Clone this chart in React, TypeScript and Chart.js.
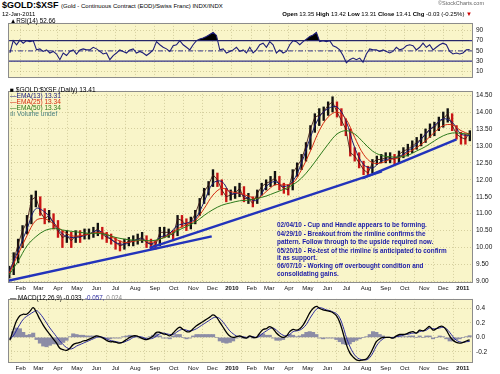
import React, { useEffect, useRef } from 'react';
import { Chart, registerables } from 'chart.js';
Chart.register(...registerables);

const FONT = "'Liberation Sans', Arial, sans-serif";
const PANEL_BG = '#f9f5c9';
const GRID = 'rgba(130,120,60,0.30)';

// ---------- axis labels ----------
const monthTickLabels = ['Feb', 'Mar', 'Apr', 'May', 'Jun', 'Jul', 'Aug', 'Sep', 'Oct', 'Nov', 'Dec', '2010',
  'Feb', 'Mar', 'Apr', 'May', 'Jun', 'Jul', 'Aug', 'Sep', 'Oct', 'Nov', 'Dec', '2011'];
const priceTicks = [9.0, 9.25, 9.5, 9.75, 10.0, 10.25, 10.5, 10.75, 11.0, 11.25, 11.5, 11.75, 12.0,
  12.25, 12.5, 12.75, 13.0, 13.25, 13.5, 13.75, 14.0, 14.25, 14.5];
const rsiTicks = [10, 30, 50, 70, 90];
const macdTicks = [-0.2, 0.0, 0.2, 0.4];

// ---------- weekly price (CHF) ----------
const weeklyClose = [9.2, 9.6, 10.1, 10.5, 10.75, 11.4, 11.5, 11.05, 10.85, 10.95,
  10.7, 10.5, 10.3, 10.35, 10.2, 10.35, 10.3, 10.4, 10.4, 10.45,
  10.55, 10.4, 10.3, 10.25, 10.15, 10.05, 10.1, 10.2, 10.2, 10.25,
  10.3, 10.15, 10.1, 10.05, 10.45, 10.45, 10.45, 10.35, 10.85, 10.8,
  10.65, 10.75, 11.0, 11.35, 11.65, 11.85, 12.15, 12.0, 11.7, 11.5,
  11.55, 11.6, 11.75, 11.45, 11.45, 11.3, 11.6, 11.8, 11.9, 11.95,
  12.05, 11.85, 11.75, 11.7, 12.2, 12.4, 12.6, 13.0, 13.5, 13.85,
  13.9, 14.0, 14.2, 14.3, 14.0, 13.75, 13.5, 12.8, 12.7, 12.5,
  12.3, 12.2, 12.5, 12.6, 12.6, 12.65, 12.65, 12.6, 12.75, 12.85,
  12.9, 13.0, 13.1, 13.2, 13.35, 13.5, 13.55, 13.7, 13.8, 13.95,
  13.6, 13.35, 13.25, 13.2, 13.41];
const weeklyHigh = [9.45, 9.85, 10.25, 10.65, 10.95, 11.55, 11.67, 11.5, 11.15, 11.1,
  11.0, 10.8, 10.5, 10.5, 10.45, 10.5, 10.5, 10.55, 10.55, 10.6,
  10.72, 10.6, 10.45, 10.4, 10.3, 10.2, 10.25, 10.3, 10.35, 10.4,
  10.45, 10.35, 10.25, 10.2, 10.6, 10.6, 10.55, 10.5, 10.95, 10.95,
  10.85, 10.9, 11.1, 11.45, 11.75, 11.95, 12.3, 12.2, 12.0, 11.75,
  11.7, 11.8, 11.9, 11.8, 11.6, 11.5, 11.7, 11.9, 12.0, 12.1,
  12.25, 12.1, 11.9, 11.85, 12.3, 12.5, 12.75, 13.1, 13.6, 13.95,
  14.1, 14.15, 14.3, 14.45, 14.3, 14.1, 13.8, 13.5, 12.95, 12.8,
  12.55, 12.4, 12.6, 12.7, 12.75, 12.8, 12.8, 12.75, 12.85, 12.95,
  13.05, 13.15, 13.25, 13.35, 13.5, 13.65, 13.7, 13.85, 14.0, 14.1,
  13.95, 13.6, 13.4, 13.35, 13.45];
const weeklyLow = [9.1, 9.2, 9.55, 10.0, 10.4, 10.7, 11.2, 10.95, 10.7, 10.75,
  10.55, 10.3, 10.0, 10.15, 10.0, 10.15, 10.15, 10.25, 10.25, 10.3,
  10.35, 10.25, 10.15, 10.1, 9.95, 9.9, 9.95, 10.05, 10.05, 10.1,
  10.15, 10.0, 9.95, 9.95, 10.05, 10.3, 10.3, 10.2, 10.35, 10.6,
  10.5, 10.55, 10.7, 10.95, 11.3, 11.55, 11.8, 11.8, 11.55, 11.35,
  11.4, 11.45, 11.5, 11.35, 11.3, 11.2, 11.3, 11.55, 11.7, 11.8,
  11.85, 11.7, 11.6, 11.55, 11.7, 12.1, 12.3, 12.55, 12.9, 13.4,
  13.6, 13.75, 13.9, 14.0, 13.85, 13.6, 13.3, 12.7, 12.55, 12.35,
  12.15, 12.1, 12.2, 12.45, 12.5, 12.5, 12.5, 12.45, 12.5, 12.65,
  12.7, 12.8, 12.9, 13.0, 13.1, 13.25, 13.3, 13.45, 13.55, 13.7,
  13.45, 13.2, 13.05, 13.05, 13.15];

// ---------- moving averages (biweekly readings) ----------
const ema13 = [9.3, 9.9, 10.55, 11.15, 11.05, 10.75, 10.4, 10.3, 10.32, 10.4,
  10.5, 10.35, 10.15, 10.1, 10.2, 10.25, 10.1, 10.3, 10.4, 10.65,
  10.72, 10.85, 11.35, 11.9, 11.95, 11.6, 11.6, 11.45, 11.4, 11.8,
  11.95, 11.8, 11.95, 12.5, 13.25, 13.85, 14.1, 14.15, 13.75, 12.95,
  12.45, 12.35, 12.55, 12.62, 12.68, 12.85, 13.05, 13.35, 13.6, 13.8,
  13.7, 13.35, 13.31];
const ema25 = [9.25, 9.8, 10.35, 10.8, 10.85, 10.7, 10.5, 10.35, 10.35, 10.4,
  10.45, 10.4, 10.25, 10.15, 10.18, 10.22, 10.15, 10.25, 10.38, 10.55,
  10.68, 10.8, 11.15, 11.55, 11.75, 11.65, 11.6, 11.52, 11.45, 11.65,
  11.85, 11.85, 11.9, 12.3, 12.85, 13.45, 13.85, 14.0, 13.8, 13.25,
  12.75, 12.5, 12.5, 12.6, 12.65, 12.8, 12.95, 13.15, 13.4, 13.6,
  13.62, 13.45, 13.34];
const ema50 = [9.2, 9.6, 10.05, 10.32, 10.5, 10.56, 10.52, 10.48, 10.45, 10.42,
  10.42, 10.38, 10.3, 10.25, 10.22, 10.22, 10.2, 10.25, 10.35, 10.5,
  10.62, 10.75, 10.95, 11.12, 11.25, 11.32, 11.38, 11.4, 11.45, 11.52,
  11.62, 11.72, 11.85, 12.05, 12.35, 12.7, 13.05, 13.35, 13.45, 13.35,
  13.1, 12.85, 12.72, 12.68, 12.67, 12.72, 12.85, 12.98, 13.15, 13.3,
  13.38, 13.37, 13.34];

// ---------- trendlines [day, price] ----------
const trendlines = [
  { from: [0, 9.02], to: [322, 10.33] },
  { from: [224, 9.99], to: [591, 12.25] },
  { from: [561, 12.05], to: [709, 13.19] },
];

// ---------- RSI(14) ----------
const rsiValues = [46, 70, 62, 71, 65, 70, 68, 70, 52, 54,
  49, 52, 46, 49, 44, 33, 46, 41, 49, 52,
  44, 52, 54, 52, 52, 57, 54, 49, 44, 46,
  33, 41, 46, 52, 49, 46, 52, 54, 46, 49,
  46, 41, 46, 52, 68, 62, 57, 54, 49, 60,
  62, 70, 62, 57, 52, 62, 70, 73, 75, 78,
  82, 86, 80, 52, 54, 46, 49, 52, 57, 49,
  52, 46,
  57, 46, 52, 62, 65, 57, 68, 62, 46, 52,
  46, 49, 62, 70, 68, 62, 68, 73, 78, 81,
  86, 68, 70, 68, 70, 60, 57, 52,
  41, 27, 33, 36, 33, 36, 28, 44, 54, 52,
  52, 49, 52, 49, 46, 49, 57, 52, 54, 60,
  62, 60, 52, 57, 65, 57, 62, 52, 57, 62,
  65, 62, 49, 44, 46, 44, 46, 52, 52.66];

// ---------- MACD(12,26,9) ----------
const macdLine = [-0.04, 0.10, 0.23, 0.30, 0.32, 0.32, 0.36, 0.41, 0.34, 0.25,
  0.17, 0.10, 0.04, -0.02, -0.08, -0.15, -0.17, -0.18, -0.15, -0.10,
  -0.08, -0.07, -0.05, -0.04, -0.02, 0.0, 0.02, 0.01, -0.01, -0.04,
  -0.06, -0.06, -0.07, -0.08, -0.06, -0.03, 0.0, 0.02, 0.02, 0.0,
  -0.02, -0.03, -0.01, 0.02, 0.07, 0.07, 0.05, 0.04, 0.02, 0.06,
  0.11, 0.14, 0.11, 0.08, 0.08, 0.12, 0.16, 0.19, 0.22, 0.25,
  0.28, 0.31, 0.28, 0.21, 0.14, 0.07, 0.02, 0.0, 0.01, 0.02,
  0.0, -0.01,
  0.02, 0.0, 0.0, 0.06, 0.11, 0.12, 0.15, 0.12, 0.06, 0.02,
  0.0, 0.02, 0.08, 0.11, 0.10, 0.12, 0.17, 0.25, 0.34, 0.40,
  0.43, 0.40, 0.38, 0.37, 0.36, 0.34, 0.30, 0.21, 0.06, -0.10,
  -0.21, -0.27, -0.31, -0.32, -0.31, -0.30, -0.24, -0.15, -0.06, -0.02,
  0.0, 0.0, 0.0, -0.01, 0.02, 0.04, 0.04, 0.05, 0.07, 0.08,
  0.06, 0.10, 0.09, 0.12, 0.15, 0.10, 0.12, 0.15, 0.15, 0.10,
  0.02, -0.04, -0.07, -0.08, -0.07, -0.05, -0.033];
const macdSignal = [-0.02, 0.02, 0.10, 0.18, 0.25, 0.29, 0.32, 0.35, 0.37, 0.33,
  0.27, 0.20, 0.13, 0.07, 0.01, -0.05, -0.10, -0.14, -0.16, -0.15,
  -0.12, -0.10, -0.08, -0.06, -0.04, -0.02, 0.0, 0.01, 0.0, -0.02,
  -0.04, -0.05, -0.06, -0.07, -0.07, -0.05, -0.03, 0.0, 0.01, 0.01,
  0.0, -0.02, -0.02, -0.01, 0.02, 0.05, 0.06, 0.05, 0.04, 0.04,
  0.07, 0.10, 0.11, 0.10, 0.09, 0.10, 0.12, 0.15, 0.18, 0.21,
  0.24, 0.27, 0.28, 0.26, 0.21, 0.15, 0.09, 0.05, 0.02, 0.01,
  0.01, 0.0,
  0.01, 0.01, 0.0, 0.02, 0.06, 0.09, 0.12, 0.13, 0.10, 0.06,
  0.03, 0.02, 0.04, 0.08, 0.09, 0.10, 0.13, 0.18, 0.26, 0.33,
  0.39, 0.41, 0.40, 0.38, 0.37, 0.35, 0.33, 0.27, 0.15, 0.0,
  -0.12, -0.21, -0.27, -0.30, -0.31, -0.31, -0.28, -0.21, -0.12, -0.06,
  -0.02, 0.0, 0.0, 0.0, 0.01, 0.02, 0.03, 0.04, 0.05, 0.06,
  0.06, 0.08, 0.09, 0.10, 0.13, 0.12, 0.12, 0.13, 0.14, 0.12,
  0.07, 0.01, -0.04, -0.06, -0.07, -0.06, -0.057];
const macdHist = [-0.02, 0.08, 0.13, 0.12, 0.07, 0.03, 0.04, 0.06, -0.03, -0.08,
  -0.12, -0.13, -0.11, -0.09, -0.09, -0.10, -0.07, -0.04, 0.01, 0.05,
  0.04, 0.03, 0.03, 0.02, 0.02, 0.02, 0.02, 0.0, -0.01, -0.02,
  -0.02, -0.01, -0.01, -0.01, 0.01, 0.02, 0.03, 0.02, 0.01, -0.01,
  -0.02, -0.01, 0.01, 0.03, 0.05, 0.02, -0.01, -0.01, -0.02, 0.02,
  0.04, 0.04, 0.0, -0.02, -0.01, 0.02, 0.04, 0.04, 0.04, 0.04,
  0.04, 0.04, 0.0, -0.05, -0.07, -0.08, -0.07, -0.05, -0.01, 0.01,
  -0.01, -0.01,
  0.01, -0.01, 0.0, 0.04, 0.05, 0.03, 0.03, -0.01, -0.04, -0.04,
  -0.03, 0.0, 0.04, 0.03, 0.01, 0.02, 0.04, 0.07, 0.08, 0.07,
  0.04, -0.01, -0.02, -0.01, -0.01, -0.01, -0.03, -0.06, -0.09, -0.10,
  -0.09, -0.06, -0.04, -0.02, 0.0, 0.01, 0.04, 0.08, 0.07, 0.04,
  0.02, 0.0, 0.0, -0.01, 0.01, 0.02, 0.01, 0.01, 0.02, 0.02,
  0.0, 0.02, 0.0, 0.02, 0.02, -0.02, 0.0, 0.02, 0.01, -0.02,
  -0.05, -0.05, -0.03, -0.02, 0.0, 0.01, 0.024];

const RSI_UPPER = 70, RSI_MID = 50, RSI_LOWER = 30;

const annotationLines = [
  '02/04/10 - Cup and Handle appears to be forming.',
  '04/29/10 - Breakout from the rimline confirms the',
  'pattern.  Follow through to the upside required now.',
  '05/20/10 - Re-test of the rimline is anticipated to confirm',
  'it as support.',
  '06/07/10 - Working off overbought condition and',
  'consolidating gains.',
];

// ---------- time axis helpers (days since 12-Jan-2009) ----------
const DAY0 = Date.UTC(2009, 0, 12);
const X_MIN = 0, X_MAX = 735;
const tickDays = monthTickLabels.map((_, i) => (Date.UTC(2009, 1 + i, 1) - DAY0) / 86400000);
const weekDay = (i: number) => 2 + 7 * i;
const emaDay = (k: number) => 2 + 14 * k;
const oscDay = (j: number) => 3 + 5.266 * j;

const panelPlugin = {
  id: 'panelFrame',
  beforeDraw(chart: any) {
    const { ctx, chartArea: a } = chart;
    ctx.save();
    ctx.fillStyle = PANEL_BG;
    ctx.fillRect(a.left, a.top, a.right - a.left, a.bottom - a.top);
    ctx.restore();
  },
  afterDraw(chart: any) {
    const { ctx, chartArea: a } = chart;
    ctx.save();
    ctx.strokeStyle = '#8c8c8c';
    ctx.lineWidth = 1;
    ctx.strokeRect(Math.round(a.left) + 0.5, Math.round(a.top) + 0.5,
      Math.round(a.right - a.left) - 1, Math.round(a.bottom - a.top) - 1);
    ctx.restore();
  },
};

function xScale(showLabels: boolean): any {
  return {
    type: 'linear', min: X_MIN, max: X_MAX, offset: false,
    afterBuildTicks: (axis: any) => { axis.ticks = tickDays.map((v) => ({ value: v })); },
    afterFit: (axis: any) => { axis.height = showLabels ? 12 : 0; },
    grid: { color: GRID, drawTicks: false },
    border: { display: false, dash: [1, 2] },
    ticks: {
      display: showLabels, autoSkip: false, maxRotation: 0, minRotation: 0, padding: 2,
      color: '#111',
      font: (ctx: any) => ({ family: FONT, size: 6, weight: /^\d/.test(monthTickLabels[ctx.index] || '') ? 'bold' : 'normal' }),
      callback: (_v: any, i: number) => monthTickLabels[i],
    },
  };
}

function yScale(min: number, max: number, ticksArr: number[], fmt: (v: number) => string): any {
  return {
    type: 'linear', position: 'right', min, max,
    afterBuildTicks: (axis: any) => { axis.ticks = ticksArr.map((v) => ({ value: v })); },
    afterFit: (axis: any) => { axis.width = 27; },
    grid: { color: GRID, drawTicks: false },
    border: { display: false, dash: [1, 2] },
    ticks: { padding: 3, color: '#111', font: { family: FONT, size: 6.5 }, callback: (v: any) => fmt(Number(v)) },
  };
}

const baseOptions = (padTop: number, padBottom: number) => ({
  animation: false as const,
  responsive: false,
  devicePixelRatio: 1,
  events: [] as any[],
  layout: { padding: { left: 8, right: 0, top: padTop, bottom: padBottom } },
  plugins: { legend: { display: false }, tooltip: { enabled: false } },
});

const hline = (v: number, color: string, width: number, dash: number[] = []) => ({
  type: 'line' as const,
  data: [{ x: X_MIN, y: v }, { x: X_MAX, y: v }],
  borderColor: color, borderWidth: width, borderDash: dash, pointRadius: 0, fill: false, order: 2,
});

export default function App() {
  const rsiRef = useRef<HTMLCanvasElement>(null);
  const mainRef = useRef<HTMLCanvasElement>(null);
  const macdRef = useRef<HTMLCanvasElement>(null);

  useEffect(() => {
    const charts: Chart[] = [];

    // RSI panel
    charts.push(new Chart(rsiRef.current!, {
      type: 'line',
      data: {
        datasets: [
          {
            data: rsiValues.map((v, j) => ({ x: oscDay(j), y: v })),
            borderColor: '#1e1e78', borderWidth: 1.1, pointRadius: 0, tension: 0,
            fill: { target: { value: RSI_UPPER }, above: '#000000', below: 'rgba(0,0,0,0)' },
            order: 1,
          } as any,
          hline(RSI_UPPER, '#33338a', 1.3),
          hline(RSI_LOWER, '#33338a', 1.3),
          hline(RSI_MID, '#33338a', 1, [5, 2, 1, 2]),
        ],
      },
      options: {
        ...baseOptions(1, 1),
        scales: {
          x: xScale(false),
          y: yScale(-2.8, 104.4, rsiTicks, (v) => String(v)),
        },
      } as any,
      plugins: [panelPlugin],
    }));

    // Price panel
    const barColors = weeklyClose.map((c, i) => (i > 0 && c < weeklyClose[i - 1] ? '#c81414' : '#111111'));
    const emaSet = (vals: number[], color: string) => ({
      type: 'line' as const,
      data: vals.map((v, k) => ({ x: emaDay(k), y: v })),
      borderColor: color, borderWidth: 1, pointRadius: 0, tension: 0.35, order: 3,
    });
    charts.push(new Chart(mainRef.current!, {
      type: 'line',
      data: {
        datasets: [
          {
            type: 'bar',
            data: weeklyClose.map((_, i) => ({ x: weekDay(i), y: [weeklyLow[i], weeklyHigh[i]] })),
            backgroundColor: barColors,
            barThickness: 1.7,
            order: 6,
          } as any,
          {
            type: 'line',
            data: weeklyClose.map((c, i) => ({ x: weekDay(i), y: c })),
            borderColor: 'rgba(60,20,20,0.85)', borderWidth: 1, pointRadius: 0, tension: 0, order: 5,
          },
          emaSet(ema50, '#2d7a1c'),
          emaSet(ema25, '#d42a10'),
          emaSet(ema13, '#1a1a70'),
          ...trendlines.map((t) => ({
            type: 'line' as const,
            data: [{ x: t.from[0], y: t.from[1] }, { x: t.to[0], y: t.to[1] }],
            borderColor: '#2233bb', borderWidth: 2.4, pointRadius: 0, order: 1,
          })),
        ],
      },
      options: {
        ...baseOptions(1, 0),
        scales: {
          x: xScale(true),
          y: yScale(8.955, 14.623, priceTicks, (v) => v.toFixed(2)),
        },
      } as any,
      plugins: [panelPlugin],
    }));

    // MACD panel
    charts.push(new Chart(macdRef.current!, {
      type: 'line',
      data: {
        datasets: [
          {
            type: 'bar',
            data: macdHist.map((v, j) => ({ x: oscDay(j), y: v })),
            backgroundColor: '#8c8ca6',
            barThickness: 3.4,
            order: 5,
          } as any,
          {
            data: macdSignal.map((v, j) => ({ x: oscDay(j), y: v })),
            borderColor: '#2b2ba0', borderWidth: 1, pointRadius: 0, tension: 0.4, order: 2,
          },
          {
            data: macdLine.map((v, j) => ({ x: oscDay(j), y: v })),
            borderColor: '#000000', borderWidth: 1.3, pointRadius: 0, tension: 0.4, order: 1,
          },
        ],
      },
      options: {
        ...baseOptions(1, 0),
        scales: {
          x: xScale(true),
          y: yScale(-0.354, 0.532, macdTicks, (v) => v.toFixed(1)),
        },
      } as any,
      plugins: [panelPlugin],
    }));

    return () => charts.forEach((c) => c.destroy());
  }, []);

  const abs = (style: React.CSSProperties): React.CSSProperties => ({
    position: 'absolute', whiteSpace: 'nowrap', lineHeight: 1, ...style,
  });

  return (
    <div style={{ position: 'absolute', left: 0, top: 0, width: 500, height: 374, background: '#ffffff', overflow: 'hidden', fontFamily: FONT, color: '#000' }}>
      <canvas ref={rsiRef} width={500} height={69} style={{ position: 'absolute', left: 0, top: 16, width: 500, height: 69 }} />
      <canvas ref={mainRef} width={500} height={211} style={{ position: 'absolute', left: 0, top: 84, width: 500, height: 211 }} />
      <canvas ref={macdRef} width={500} height={83} style={{ position: 'absolute', left: 0, top: 292, width: 500, height: 83 }} />

      {/* header */}
      <div style={abs({ left: 2, top: 1, fontSize: 9, fontWeight: 'bold' })}>
        $GOLD:$XSF <span style={{ fontSize: 6, fontWeight: 'normal' }}>(Gold - Continuous Contract (EOD)/Swiss Franc) INDX/INDX</span>
      </div>
      <div style={abs({ left: 2, top: 10.5, fontSize: 6 })}>12-Jan-2011</div>
      <div style={abs({ right: 16, top: 1, fontSize: 5.5, color: '#666' })}>©StockCharts.com</div>
      <div style={abs({ right: 28, top: 10.5, fontSize: 6 })}>
        <b>Open</b> 13.35 <b>High</b> 13.42 <b>Low</b> 13.31 <b>Close</b> 13.41 <b>Chg</b> -0.03 (-0.25%) <span style={{ color: '#c00' }}>▼</span>
      </div>

      {/* RSI legend */}
      <div style={abs({ left: 10, top: 17.5, fontSize: 6.3 })}>▲RSI(14) 52.66</div>

      {/* price legend */}
      <div style={abs({ left: 10, top: 87, fontSize: 6.6 })}>■ $GOLD:$XSF (Daily) 13.41</div>
      <div style={abs({ left: 10, top: 93, fontSize: 6.6, color: '#1a1a80' })}>—EMA(13) 13.31</div>
      <div style={abs({ left: 10, top: 99, fontSize: 6.6, color: '#d42a10' })}>—EMA(25) 13.34</div>
      <div style={abs({ left: 10, top: 105, fontSize: 6.6, color: '#2d7a1c' })}>—EMA(50) 13.34</div>
      <div style={abs({ left: 10, top: 111, fontSize: 6.6, color: '#4a8080' })}>ılı Volume undef</div>

      {/* annotation */}
      {annotationLines.map((t, i) => (
        <div key={i} style={abs({ left: 277, top: [222, 231, 239, 248, 255, 263, 271][i], fontSize: 6.4, fontWeight: 'bold', color: '#1a1aa8' })}>{t}</div>
      ))}

      {/* MACD legend */}
      <div style={abs({ left: 10, top: 295, fontSize: 6.3 })}>
        — MACD(12,26,9) -0.033, <span style={{ color: '#2b2ba0' }}>-0.057,</span> <span style={{ color: '#888' }}>0.024</span>
      </div>
    </div>
  );
}
